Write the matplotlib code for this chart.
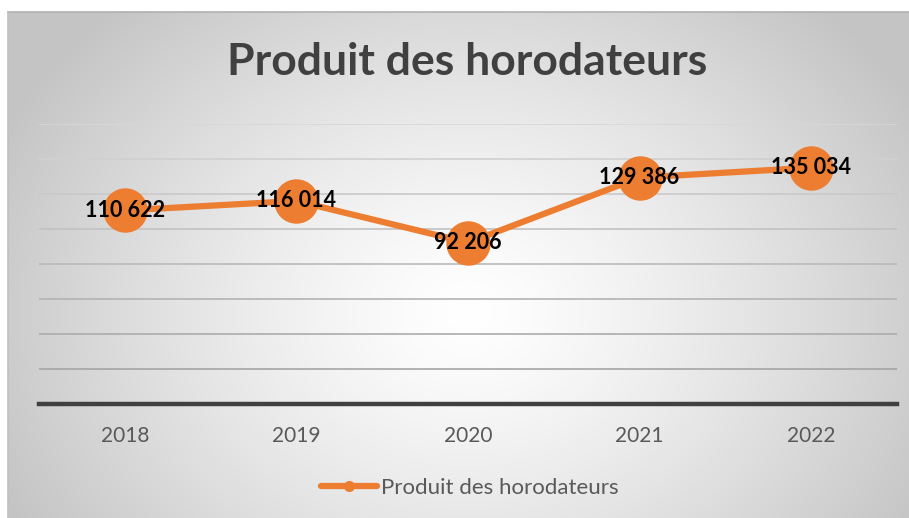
import numpy as np
import matplotlib
matplotlib.use("Agg")
import matplotlib.pyplot as plt
from matplotlib.lines import Line2D

years = ["2018", "2019", "2020", "2021", "2022"]
values = [110622, 116014, 92206, 129386, 135034]
labels = ["110 622", "116 014", "92 206", "129 386", "135 034"]
series_name = "Produit des horodateurs"
title = "Produit des horodateurs"

W, H = 909, 518
DPI = 100
ORANGE = "#ED7D31"
FONT = "Lato"

fig = plt.figure(figsize=(W / DPI, H / DPI), dpi=DPI)
fig.patch.set_facecolor("white")

# background radial gradient panel
bx0, by0 = 8, 12
bg = fig.add_axes([bx0 / W, 0, (W - bx0) / W, (H - by0) / H])
bg.set_axis_off()
nx, ny = W - bx0, H - by0
xx, yy = np.meshgrid(np.arange(nx), np.arange(ny))
cx, cy = 460, 300
r = np.sqrt(((xx - cx) / 520.0) ** 2 + ((yy - cy) / 420.0) ** 2)
r = np.clip(r, 0, 1)
g = 255 - (255 - 196) * r ** 1.3
img = np.dstack([g, g, g]) / 255.0
bg.imshow(img, aspect="auto", extent=[0, 1, 0, 1], interpolation="bilinear")
bg.set_xlim(0, 1)
bg.set_ylim(0, 1)
bg.plot([0, 1], [1, 1], color="#b0b0b0", lw=1.2, transform=bg.transAxes, clip_on=False)
bg.plot([0, 0], [0, 1], color="#c0c0c0", lw=1.2, transform=bg.transAxes, clip_on=False)

# main axes
left, right, top, bottom = 39, 897, 124, 404
ax = fig.add_axes([left / W, (H - bottom) / H, (right - left) / W, (bottom - top) / H])
ax.patch.set_alpha(0)
x = np.arange(len(years))
ax.set_xlim(-0.5, len(years) - 0.5)
ax.set_ylim(0, 160000)

grid_levels = np.arange(20000, 160001, 20000)
for i, lv in enumerate(grid_levels):
    t = i / (len(grid_levels) - 1)
    c = 165 + (215 - 165) * t
    ax.axhline(lv, color=(c / 255, c / 255, c / 255), lw=1.2, zorder=1)

for s in ["top", "right", "left"]:
    ax.spines[s].set_visible(False)
ax.spines["bottom"].set_color("#404040")
ax.spines["bottom"].set_linewidth(3.2)
ax.set_yticks([])
ax.set_xticks(x)
ax.set_xticklabels(years, fontsize=15, color="#595959", family=FONT)
ax.tick_params(axis="x", length=0, pad=16)

ax.plot(x, values, color=ORANGE, lw=4.5, marker="o", markersize=32,
        markeredgewidth=0, zorder=3, solid_capstyle="round")
for xi, v, lab in zip(x, values, labels):
    ax.text(xi, v, lab, ha="center", va="center", fontsize=15.5, fontweight="bold",
            color="black", family=FONT, zorder=4)

fig.text(467 / W, 1 - 62 / H, title, ha="center", va="center", fontsize=32,
         fontweight="bold", color="#404040", family=FONT)

handle = Line2D([0], [0], color=ORANGE, lw=4.5, marker="o", markersize=8,
                markeredgewidth=0, solid_capstyle="round")
fig.legend([handle], [series_name], loc="center", bbox_to_anchor=(470 / W, 1 - 488 / H),
           frameon=False, handlelength=2.5, handletextpad=0.2,
           prop={"family": FONT, "size": 16}, labelcolor="#595959")

fig.savefig("out.png", dpi=DPI)
